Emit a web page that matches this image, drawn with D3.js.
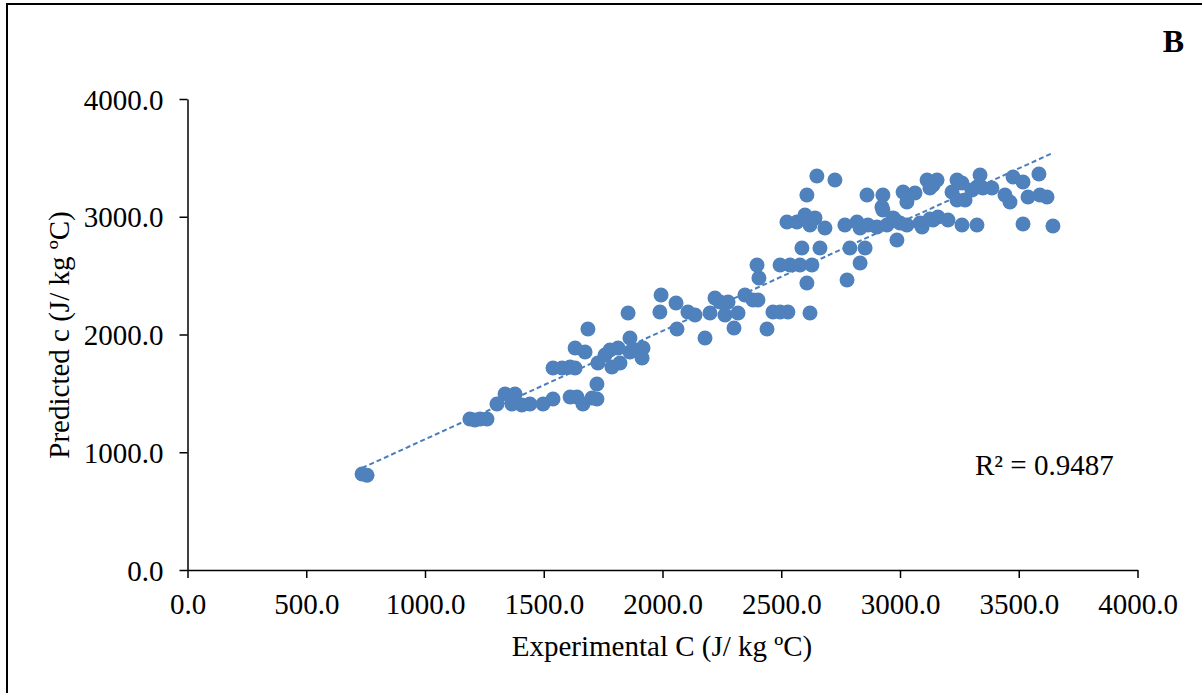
<!DOCTYPE html>
<html>
<head>
<meta charset="utf-8">
<script src="https://cdn.jsdelivr.net/npm/d3@7"></script>
<style>
  html, body { margin: 0; padding: 0; background: #fff; }
  svg { display: block; }
  text { font-family: "Liberation Serif", "Times New Roman", serif; fill: #000; }
</style>
</head>
<body>
<div id="chart"></div>
<script>
// Experimental C (J/ kg ºC)
const experimental = [
  735, 756, 1189, 1210, 1232, 1261, 1303, 1337, 1379, 1366,
  1408, 1442, 1497, 1539, 1611, 1640, 1665, 1703, 1724, 1724,
  1539, 1577, 1611, 1632, 1632, 1674, 1686, 1728, 1758, 1779,
  1787, 1813, 1821, 1863, 1863, 1893, 1918, 1914, 1855, 1989,
  1994, 2057, 2061, 2107, 2137, 2179, 2200, 2221, 2242, 2276,
  2263, 2318, 2301, 2347, 2381, 2402, 2406, 2398, 2440, 2465,
  2495, 2528, 2608, 2621, 2495, 2537, 2579, 2629, 2587, 2663,
  2524, 2566, 2600, 2621, 2642, 2684, 2608, 2650, 2726, 2768,
  2819, 2832, 2861, 2865, 2903, 2928, 2924, 2945, 2979, 2987,
  3013, 3029, 3063, 3029, 3084, 3114, 3139, 3139, 2789, 2853,
  2832, 2777, 3156, 3126, 3240, 3261, 3219, 3240, 3274, 3337,
  3324, 3349, 3387, 3303, 3476, 3518, 3585, 3442, 3463, 3539,
  3589, 3619, 2971, 3000, 3093, 3126, 3160, 3202, 3261, 3324,
  3518, 3644, 2928
];
// Predicted c (J/ kg ºC)
const predicted = [
  815, 805, 1282, 1274, 1282, 1282, 1410, 1495, 1495, 1410,
  1401, 1410, 1410, 1452, 1469, 1469, 1410, 1461, 1452, 1580,
  1716, 1716, 1724, 1716, 1885, 1851, 2047, 1758, 1826, 1868,
  1724, 1885, 1758, 1970, 1851, 1868, 1885, 1800, 2183, 2191,
  2335, 2268, 2047, 2191, 2166, 1970, 2183, 2310, 2276, 2276,
  2166, 2183, 2055, 2335, 2293, 2293, 2480, 2590, 2047, 2191,
  2191, 2191, 2437, 2183, 2590, 2590, 2590, 2590, 2735, 2735,
  2955, 2955, 3015, 2930, 2990, 2904, 3185, 3346, 3312, 2930,
  2955, 2904, 3185, 2930, 2913, 3185, 3083, 2930, 2972, 2803,
  3210, 3125, 3202, 2930, 2947, 3312, 3270, 2972, 2735, 2735,
  2607, 2463, 3312, 3244, 3312, 3287, 3210, 3142, 3142, 3355,
  3253, 3244, 3244, 3227, 3338, 3295, 3363, 3185, 3125, 3168,
  3185, 3168, 2990, 2947, 2913, 2981, 2998, 2972, 2930, 2930,
  2938, 2921, 3057
];
const xTicks = [0, 500, 1000, 1500, 2000, 2500, 3000, 3500, 4000];
const yTicks = [0, 1000, 2000, 3000, 4000];
const trendSlope = 0.92;
const trendIntercept = 190;
const r2Label = "R² = 0.9487";
const xTitle = "Experimental C (J/ kg ºC)";
const yTitle = "Predicted c (J/ kg ºC)";
const panelLabel = "B";

const W = 1202, H = 693;
const svg = d3.select("#chart").append("svg").attr("width", W).attr("height", H);

// outer frame
svg.append("rect").attr("x", 7).attr("y", 4).attr("width", 1220).attr("height", 720)
  .attr("fill", "none").attr("stroke", "#000").attr("stroke-width", 2);

const x = d3.scaleLinear().domain([0, 4000]).range([187.5, 1137.5]);
const y = d3.scaleLinear().domain([0, 4000]).range([570, 99]);

const fmt = d3.format(".1f");

const xAxis = svg.append("g").attr("transform", "translate(0,570)")
  .call(d3.axisBottom(x).tickValues(xTicks).tickFormat(fmt).tickSize(8).tickSizeOuter(0));
const yAxis = svg.append("g").attr("transform", "translate(187.5,0)")
  .call(d3.axisLeft(y).tickValues(yTicks).tickFormat(fmt).tickSize(8).tickSizeOuter(0));

[xAxis, yAxis].forEach(g => {
  g.select(".domain").attr("stroke", "#000").attr("stroke-width", 1.5);
  g.selectAll(".tick line").attr("stroke", "#000").attr("stroke-width", 1.5);
  g.selectAll(".tick text").attr("font-family", "Liberation Serif, Times New Roman, serif")
    .attr("font-size", 29).attr("fill", "#000");
});
xAxis.selectAll(".tick text").attr("dy", null).attr("y", 44);
yAxis.selectAll(".tick text").attr("x", -24).attr("dy", "0.35em");

// trendline
const xMin = d3.min(experimental), xMax = d3.max(experimental);
svg.append("line")
  .attr("x1", x(xMin)).attr("y1", y(trendSlope * xMin + trendIntercept))
  .attr("x2", x(xMax)).attr("y2", y(trendSlope * xMax + trendIntercept))
  .attr("stroke", "#4a7ebb").attr("stroke-width", 2).attr("stroke-dasharray", "5,3");

// points
svg.append("g").selectAll("circle").data(experimental.map((d, i) => [d, predicted[i]]))
  .join("circle")
  .attr("cx", d => x(d[0])).attr("cy", d => y(d[1])).attr("r", 7.5)
  .attr("fill", "#4f81bd");

// R2 label
svg.append("text").attr("x", 975).attr("y", 475).attr("font-size", 29).text(r2Label);

// axis titles
svg.append("text").attr("x", 662).attr("y", 656).attr("text-anchor", "middle")
  .attr("font-size", 29).text(xTitle);
svg.append("text").attr("transform", "translate(69,335) rotate(-90)")
  .attr("text-anchor", "middle").attr("font-size", 29).text(yTitle);

// panel label
svg.append("text").attr("x", 1184).attr("y", 52).attr("text-anchor", "end")
  .attr("font-size", 32).attr("font-weight", "bold").text(panelLabel);
</script>
</body>
</html>
